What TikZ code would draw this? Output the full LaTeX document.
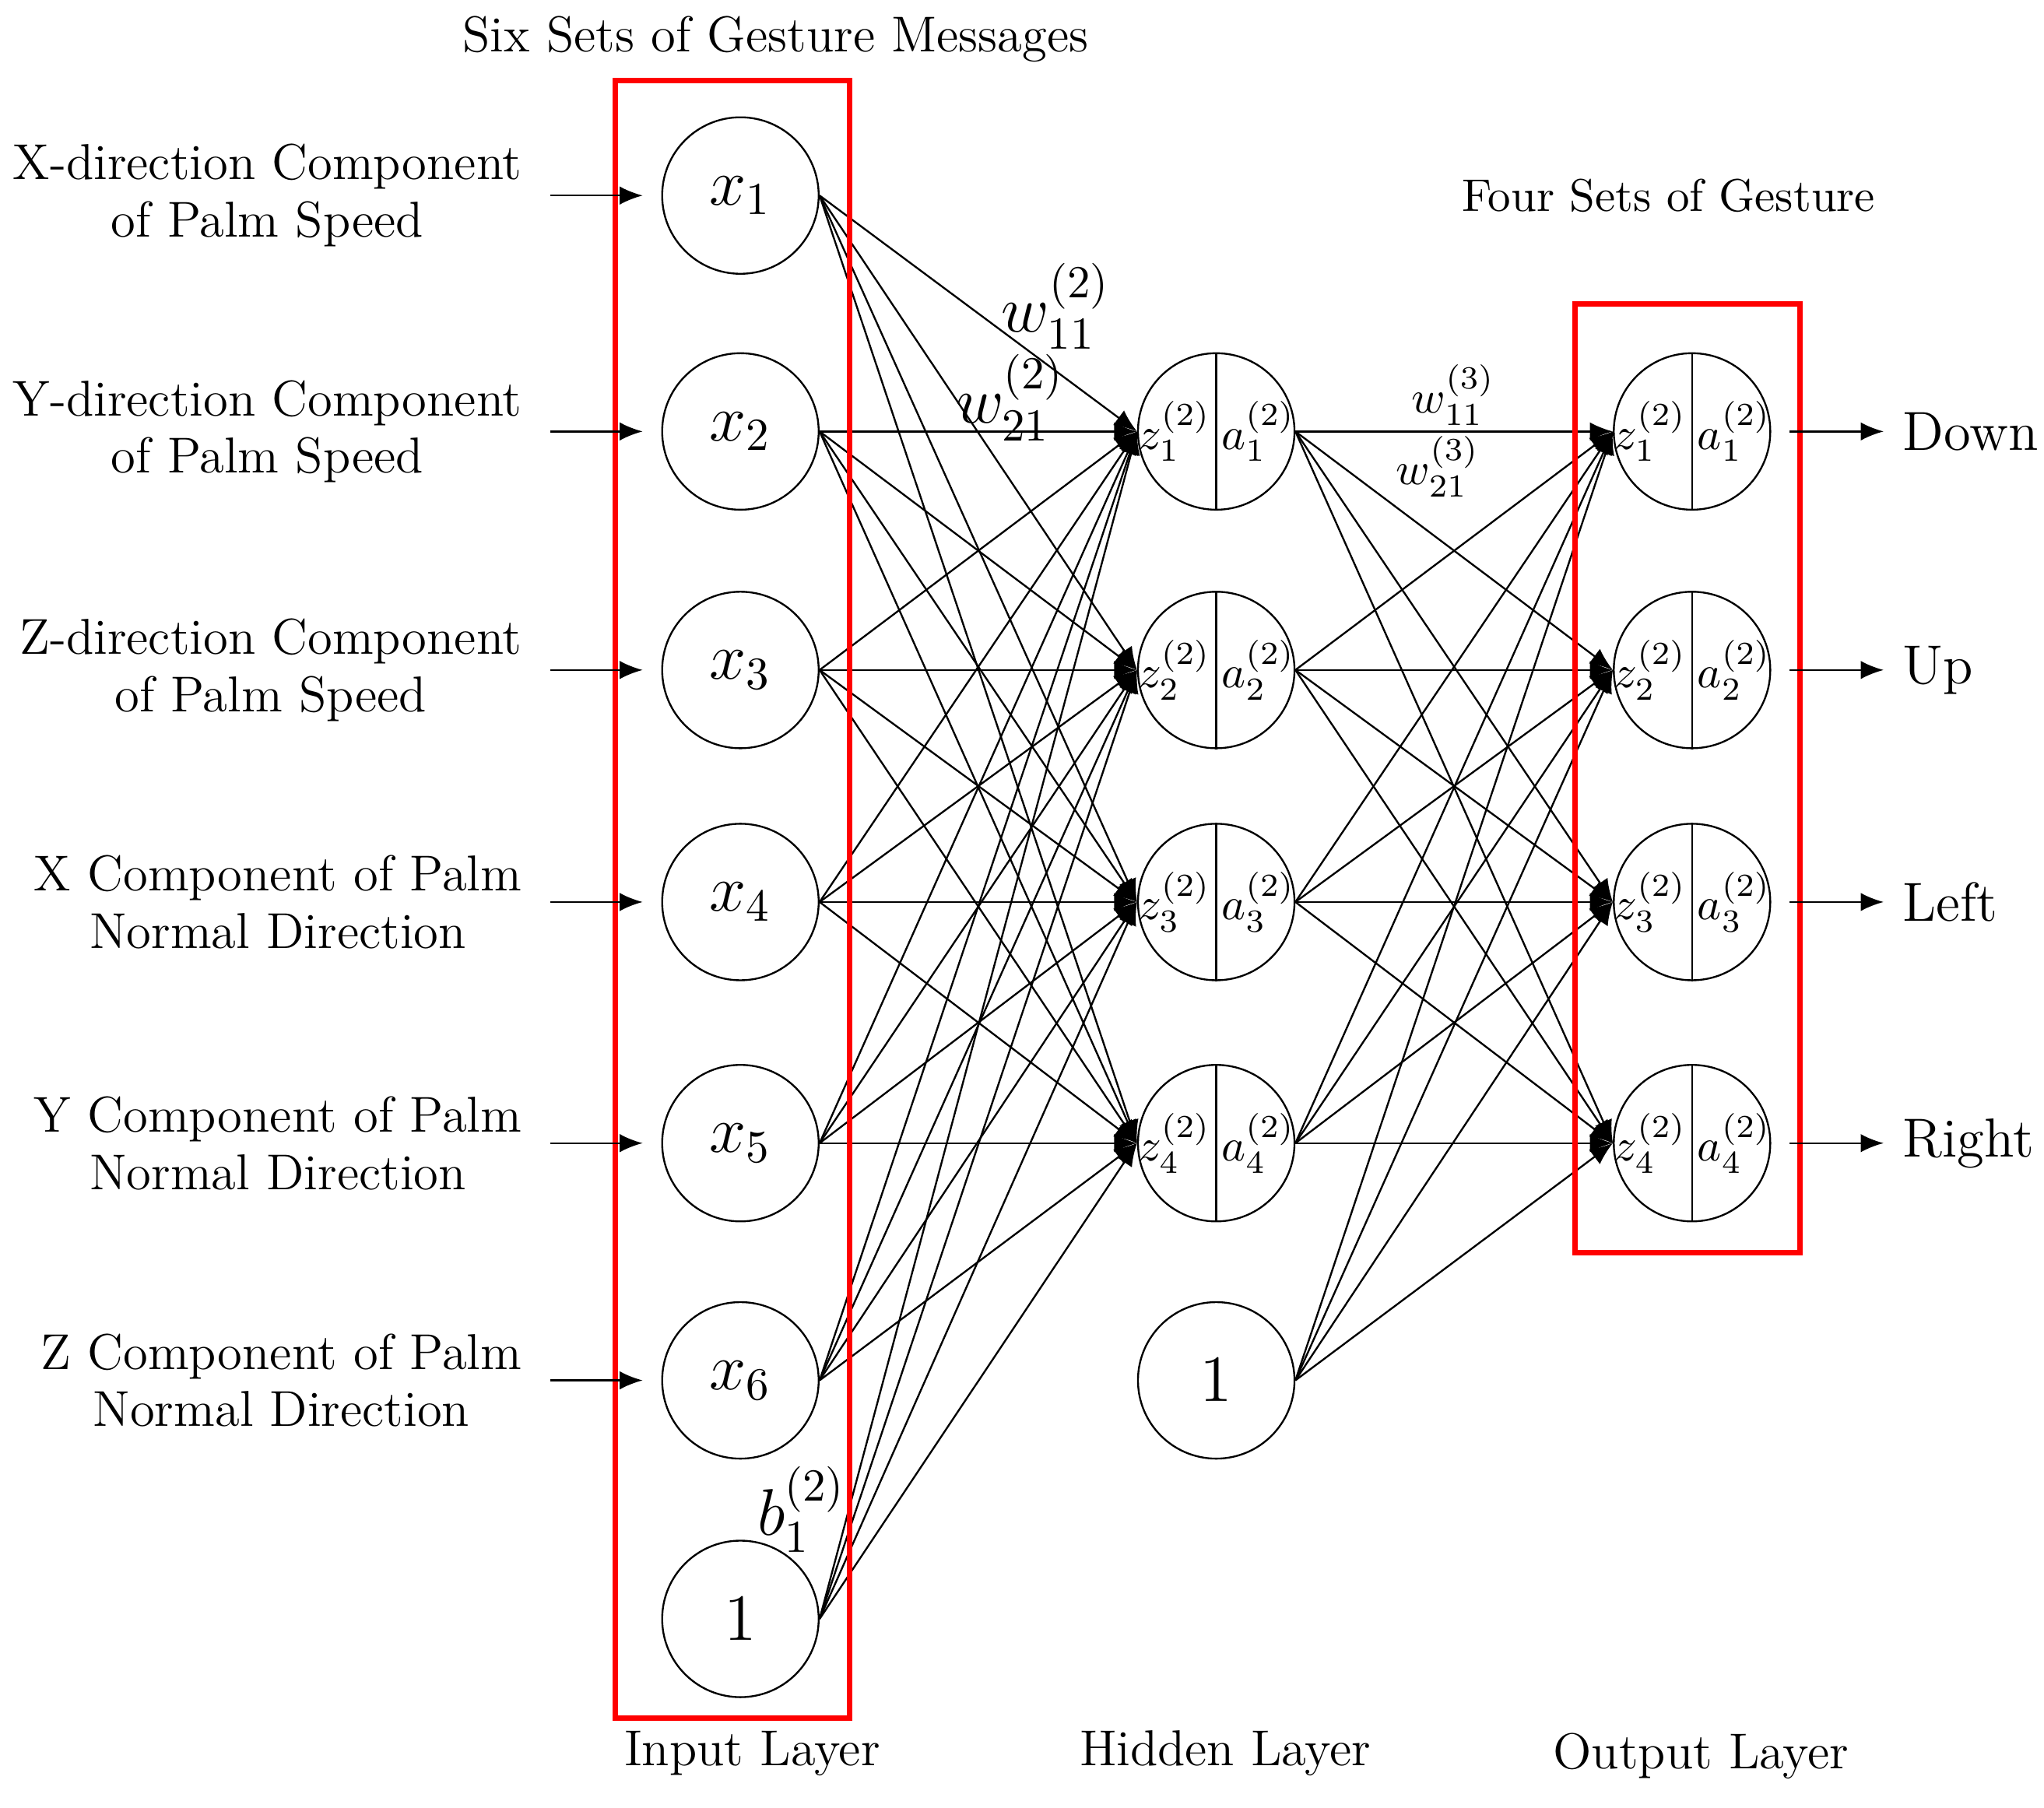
\documentclass[tikz,border=0pt]{standalone}
\usepackage{amsmath}
\usetikzlibrary{arrows.meta,positioning}
\begin{document}
\begin{tikzpicture}[x=0.01cm,y=-0.01cm,
      neuron/.style={
         circle,
         draw=black,
         inner sep=0pt,
         minimum size=1.2cm,
         font=\Large},
      myarrow/.style={-{Latex[length=5pt,width=4pt]}},
      lab/.style={align=center,font=\fontsize{11}{12.5}\selectfont,inner sep=0pt},
      sub/.style={font=\normalsize,inner sep=0pt},
      red box/.style={draw=red,line width=1.2pt}
      ]
      \useasboundingbox (0,0) rectangle (1568,1387);
      % input layer
      \foreach \i/\y in {1/150,2/331,3/514,4/692,5/877,6/1059}
         \node[neuron] (x\i) at (568,\y) {$x_{\i}$};
      \node[neuron] (x7) at (568,1242) {$1$};
      % hidden layer
      \foreach \j/\y in {1/331,2/514,3/692,4/877}{
         \node[neuron] (h\j) at (933,\y) {};
         \draw (h\j.north) -- (h\j.south);
         \node[sub,left=1pt of h\j.center] {$z_{\j}^{(2)}$};
         \node[sub,right=1pt of h\j.center] {$a_{\j}^{(2)}$};
      }
      \node[neuron] (h5) at (933,1059) {$1$};
      % output layer
      \foreach \k/\y in {1/331,2/514,3/692,4/877}{
         \node[neuron] (o\k) at (1298,\y) {};
         \draw (o\k.north) -- (o\k.south);
         \node[sub,left=1pt of o\k.center] {$z_{\k}^{(2)}$};
         \node[sub,right=1pt of o\k.center] {$a_{\k}^{(2)}$};
      }

      % connections
      \foreach \i in {1,...,7}
         \foreach \j in {1,...,4}
            \draw[myarrow,thin] (x\i.east) -- (h\j.west);
      \foreach \j in {1,...,5}
         \foreach \k in {1,...,4}
            \draw[myarrow,thin] (h\j.east) -- (o\k.west);

      % boxes
      \draw[red box] (472,62) rectangle (652,1318);
      \draw[red box] (1208,233) rectangle (1381,961);

      % input texts
      \foreach \i/\txt in {%
         1/{X-direction Component\\of Palm Speed},
         2/{Y-direction Component\\of Palm Speed},
         3/{Z-direction Component\\of Palm Speed},
         4/{X Component of Palm\\Normal Direction},
         5/{Y Component of Palm\\Normal Direction},
         6/{Z Component of Palm\\Normal Direction}}{
         \coordinate (in\i) at (422,0 |- x\i);
         \node[lab,left=6pt of in\i] (t\i) {\txt};
         \draw[myarrow] (in\i) -- (x\i.west -| 493,0);
      }

      % output texts
      \foreach \k/\txt in {1/Down,2/Up,3/Left,4/Right}{
         \coordinate (out\k) at (1445,0 |- o\k);
         \draw[myarrow] ([xshift=0.14cm]o\k.east) -- (out\k);
         \node[lab,font=\large,right=4pt of out\k] (r\k) {\txt};
      }

      % weights
      \node[font=\Large] (w11) at (810,235) {$w_{11}^{(2)}$};
      \node[font=\Large] (w21) at (775,305) {$w_{21}^{(2)}$};
      \node[font=\normalsize] (v11) at (1115,303) {$w_{11}^{(3)}$};
      \node[font=\normalsize] (v21) at (1103,358) {$w_{21}^{(3)}$};
      \node[font=\Large] (b1) at (615,1158) {$b_{1}^{(2)}$};

      % titles
      \node[lab] (title1) at (595,30) {Six Sets of Gesture Messages};
      \node[lab,font=\normalsize] (title2) at (1280,150) {Four Sets of Gesture};
      \node[lab] (inl) at (577,1345) {Input Layer};
      \node[lab] (hidl) at (940,1345) {Hidden Layer};
      \node[lab] (outl) at (1305,1347) {Output Layer};
\end{tikzpicture}
\end{document}
